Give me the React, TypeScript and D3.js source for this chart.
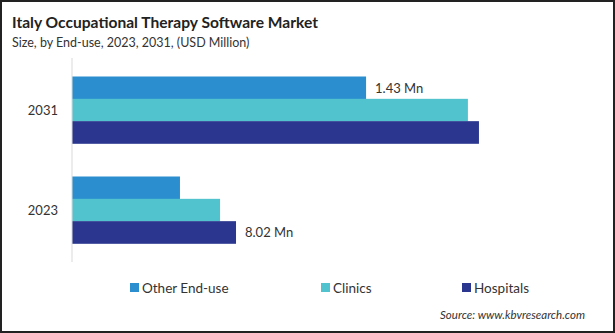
import React from "react";
import * as d3 from "d3";

const years = ["2031", "2023"];
const seriesNames = ["Other End-use", "Clinics", "Hospitals"];
const otherValues = [14.38, 5.28];
const clinicValues = [19.36, 7.24];
const hospitalValues = [19.9, 8.02];
const colors = ["#2B8FCF", "#50C3CE", "#2B378E"];
const barLabels = [
  { year: "2031", series: 0, text: "1.43 Mn" },
  { year: "2023", series: 2, text: "8.02 Mn" },
];

const W = 615;
const H = 333;
const FONT = "Lato, 'Open Sans', sans-serif";

export default function App() {
  const values = [otherValues, clinicValues, hospitalValues];
  const x = d3.scaleLinear().domain([0, 25]).range([72, 72 + 25 * 20.45]);
  const y = d3
    .scaleBand<string>()
    .domain(years)
    .range([60, 260])
    .paddingInner(0.33)
    .paddingOuter(0.165);
  const ys = d3
    .scaleBand<string>()
    .domain(seriesNames)
    .range([0, y.bandwidth()]);

  const legendX = [130, 321, 462];

  return (
    <svg
      width={W}
      height={H}
      style={{ position: "absolute", left: 0, top: 0, background: "#fff" }}
      fontFamily={FONT}
    >
      <rect x={1} y={1} width={W - 2} height={H - 2} fill="#fff" stroke="#222" strokeWidth={2} />
      <text x={12} y={28} fontSize={16} fontWeight="bold" fill="#222" textLength={306} lengthAdjust="spacingAndGlyphs">
        Italy Occupational Therapy Software Market
      </text>
      <text x={12} y={47} fontSize={12.5} fill="#333">
        Size, by End-use, 2023, 2031, (USD Million)
      </text>

      {years.map((yr, i) =>
        seriesNames.map((s, j) => (
          <rect
            key={yr + s}
            x={x(0)}
            y={(y(yr) as number) + (ys(s) as number)}
            width={x(values[j][i]) - x(0)}
            height={ys.bandwidth() + 0.3}
            fill={colors[j]}
          />
        ))
      )}

      <line x1={x(0)} x2={x(0)} y1={58} y2={262} stroke="#d9d9d9" strokeWidth={1} />

      {years.map((yr) => (
        <text
          key={yr}
          x={58}
          y={(y(yr) as number) + y.bandwidth() / 2}
          textAnchor="end"
          dominantBaseline="central"
          fontSize={13}
          fill="#333"
        >
          {yr}
        </text>
      ))}

      {barLabels.map((l) => {
        const i = years.indexOf(l.year);
        const v = values[l.series][i];
        return (
          <text
            key={l.text}
            x={x(v) + 9}
            y={(y(l.year) as number) + (ys(seriesNames[l.series]) as number) + ys.bandwidth() / 2}
            dominantBaseline="central"
            fontSize={13}
            fill="#333"
          >
            {l.text}
          </text>
        );
      })}

      {seriesNames.map((s, j) => (
        <g key={s}>
          <rect x={legendX[j]} y={283} width={9} height={9} fill={colors[j]} />
          <text x={legendX[j] + 12} y={288} dominantBaseline="central" fontSize={13.5} fill="#333">
            {s}
          </text>
        </g>
      ))}

      <text x={585} y={314} textAnchor="end" dominantBaseline="central" fontSize={11.5} fontStyle="italic" fill="#333">
        Source: www.kbvresearch.com
      </text>
    </svg>
  );
}
